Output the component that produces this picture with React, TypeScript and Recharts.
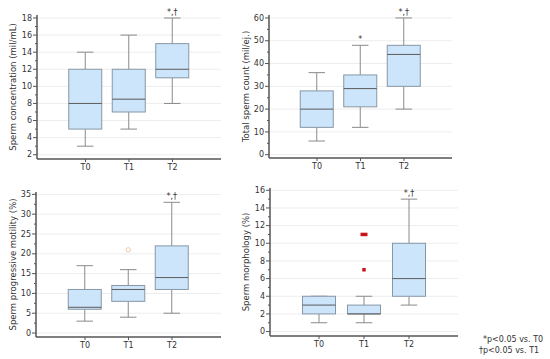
import { ComposedChart, Bar, XAxis, YAxis, CartesianGrid, LabelList } from 'recharts';

const groups = ['T0', 'T1', 'T2'];

// box stats per group: [min, q1, median, q3, max]
const concentration = [[3, 5, 8, 12, 14], [5, 7, 8.5, 12, 16], [8, 11, 12, 15, 18]];
const concentrationSig = ['', '', '*,†'];
const concentrationTicks = [2, 4, 6, 8, 10, 12, 14, 16, 18];
const concentrationMinor = [3, 5, 7, 9, 11, 13, 15, 17];

const totalCount = [[6, 12, 20, 28, 36], [12, 21, 29, 35, 48], [20, 30, 44, 48, 60]];
const totalCountSig = ['', '*', '*,†'];
const totalCountTicks = [0, 10, 20, 30, 40, 50, 60];
const totalCountMinor = [5, 15, 25, 35, 45, 55];

const motility = [[3, 6, 6.5, 11, 17], [4, 8, 11, 12, 16], [5, 11, 14, 22, 33]];
const motilitySig = ['', '', '*,†'];
const motilityOutliers = [[], [21], []];
const motilityTicks = [0, 5, 10, 15, 20, 25, 30, 35];
const motilityMinor = [2.5, 7.5, 12.5, 17.5, 22.5, 27.5, 32.5];

const morphology = [[1, 2, 3, 4, 4], [1, 2, 2, 3, 4], [3, 4, 6, 10, 15]];
const morphologySig = ['', '', '*,†'];
const morphologyOutliers = [[], [11, 11, 7], []];
const morphologyTicks = [0, 2, 4, 6, 8, 10, 12, 14, 16];
const morphologyMinor = [1, 3, 5, 7, 9, 11, 13, 15];

const AXIS = '#555';
const TEXT = '#333';

function buildRows(stats: number[][], sig: string[], outliers?: number[][]) {
  return groups.map((name, i) => ({
    name,
    range: [stats[i][0], stats[i][4]],
    stats: stats[i],
    sig: sig[i],
    outliers: outliers ? outliers[i] : [],
  }));
}

const BoxShape = (props: any) => {
  const { x, y, width, height, outlierType } = props;
  const entry = props.payload ?? props;
  const [min, q1, med, q3, max] = entry.stats;
  const pMax = Math.min(y, y + height);
  const pMin = Math.max(y, y + height);
  const py = (v: number) => pMax + ((max - v) / (max - min)) * (pMin - pMax);
  const cx = x + width / 2;
  const cap = width / 4;
  const outs: number[] = entry.outliers || [];
  return (
    <g>
      <line x1={cx} x2={cx} y1={py(max)} y2={py(q3)} stroke="#8a8a8a" />
      <line x1={cx} x2={cx} y1={py(q1)} y2={py(min)} stroke="#8a8a8a" />
      <line x1={cx - cap} x2={cx + cap} y1={py(max)} y2={py(max)} stroke="#8a8a8a" />
      <line x1={cx - cap} x2={cx + cap} y1={py(min)} y2={py(min)} stroke="#8a8a8a" />
      <rect x={x} y={py(q3)} width={width} height={py(q1) - py(q3)} fill="#cde5fb" stroke="#8797a6" />
      <line x1={x} x2={x + width} y1={py(med)} y2={py(med)} stroke="#5a5a5a" />
      {outs.map((v, i) => {
        const same = outs.filter((o) => o === v).length;
        const idx = outs.slice(0, i).filter((o) => o === v).length;
        const s = 3.5;
        const dx = (idx - (same - 1) / 2) * s;
        if (outlierType === 'square') {
          return <rect key={i} x={cx + dx - s / 2} y={py(v) - s / 2} width={s} height={s} fill="#c8141b" />;
        }
        return <circle key={i} cx={cx + dx} cy={py(v)} r={2.2} fill="none" stroke="#f4c9a0" strokeWidth={1} />;
      })}
    </g>
  );
};

const makeTick = (majors: number[]) => (props: any) => {
  const { x, y, payload } = props;
  const major = majors.includes(payload.value);
  return (
    <g>
      <line x1={x - (major ? 4 : 2)} x2={x} y1={y} y2={y} stroke={AXIS} />
      {major && (
        <text x={x - 5} y={y} dy="0.33em" textAnchor="end" fontSize={8} fill={TEXT}>
          {payload.value}
        </text>
      )}
    </g>
  );
};

const YLabel = (props: any) => {
  const { viewBox, text, dx } = props;
  const cx = viewBox.x + dx;
  const cy = viewBox.y + viewBox.height / 2;
  return (
    <text x={cx} y={cy} transform={`rotate(-90 ${cx} ${cy})`} textAnchor="middle" fontSize={8.5} fill={TEXT}>
      {text}
    </text>
  );
};

interface PanelProps {
  rows: any[];
  left: number;
  top: number;
  width: number;
  height: number;
  margin: { top: number; right: number; bottom: number; left: number };
  axisWidth: number;
  pad: number;
  domain: [number, number];
  majors: number[];
  minors: number[];
  label: string;
  labelDx: number;
  outlierType?: string;
}

function Panel(p: PanelProps) {
  return (
    <div style={{ position: 'absolute', left: p.left, top: p.top }}>
      <ComposedChart width={p.width} height={p.height} data={p.rows} margin={p.margin}>
        <CartesianGrid vertical={false} horizontalValues={p.majors} stroke="#ededed" />
        <XAxis
          dataKey="name"
          padding={{ left: p.pad, right: p.pad }}
          height={16}
          tickSize={3}
          tickMargin={2}
          tick={{ fontSize: 8, fill: TEXT }}
          tickLine={{ stroke: AXIS }}
          axisLine={{ stroke: AXIS, strokeWidth: 1.5 }}
        />
        <YAxis
          type="number"
          width={p.axisWidth}
          domain={p.domain}
          ticks={[...p.majors, ...p.minors].sort((a, b) => a - b)}
          interval={0}
          tickLine={false}
          tickSize={0}
          tickMargin={0}
          tick={makeTick(p.majors)}
          axisLine={{ stroke: AXIS, strokeWidth: 1.5 }}
          label={<YLabel text={p.label} dx={p.labelDx} />}
        />
        <Bar
          dataKey="range"
          barSize={33}
          isAnimationActive={false}
          shape={(props: any) => <BoxShape {...props} outlierType={p.outlierType} />}
        >
          <LabelList dataKey="sig" position="top" offset={3} fontSize={8} fill={TEXT} />
        </Bar>
      </ComposedChart>
    </div>
  );
}

export default function App() {
  return (
    <div
      style={{
        position: 'absolute',
        left: 0,
        top: 0,
        width: 550,
        height: 359,
        background: '#fff',
        fontFamily: '"DejaVu Sans", sans-serif',
      }}
    >
      <Panel
        rows={buildRows(concentration, concentrationSig)}
        left={0}
        top={0}
        width={230}
        height={175}
        margin={{ top: 15, right: 9, bottom: 0, left: 0 }}
        axisWidth={37}
        pad={26.75}
        domain={[1.5, 18.35]}
        majors={concentrationTicks}
        minors={concentrationMinor}
        label="Sperm concentration (mil/mL)"
        labelDx={16}
      />
      <Panel
        rows={buildRows(totalCount, totalCountSig)}
        left={235}
        top={0}
        width={225}
        height={175}
        margin={{ top: 15, right: 8, bottom: 1, left: 0 }}
        axisWidth={34}
        pad={26.25}
        domain={[-1.45, 61.3]}
        majors={totalCountTicks}
        minors={totalCountMinor}
        label="Total sperm count (mil/ej.)"
        labelDx={14}
      />
      <Panel
        rows={buildRows(motility, motilitySig, motilityOutliers)}
        left={0}
        top={175}
        width={230}
        height={184}
        margin={{ top: 17, right: 9, bottom: 6, left: 0 }}
        axisWidth={36}
        pad={27.25}
        domain={[-1, 35.6]}
        majors={motilityTicks}
        minors={motilityMinor}
        label="Sperm progressive motility (%)"
        labelDx={16}
        outlierType="circle"
      />
      <Panel
        rows={buildRows(morphology, morphologySig, morphologyOutliers)}
        left={235}
        top={175}
        width={230}
        height={184}
        margin={{ top: 13, right: 7, bottom: 7, left: 0 }}
        axisWidth={35}
        pad={26.5}
        domain={[-0.5, 16.26]}
        majors={morphologyTicks}
        minors={morphologyMinor}
        label="Sperm morphology (%)"
        labelDx={14}
        outlierType="square"
      />
      <div
        style={{
          position: 'absolute',
          left: 479,
          top: 334,
          fontSize: 8,
          lineHeight: '11px',
          color: TEXT,
          whiteSpace: 'nowrap',
        }}
      >
        <div style={{ paddingLeft: 4 }}>*p&lt;0.05 vs. T0</div>
        <div>†p&lt;0.05 vs. T1</div>
      </div>
    </div>
  );
}
